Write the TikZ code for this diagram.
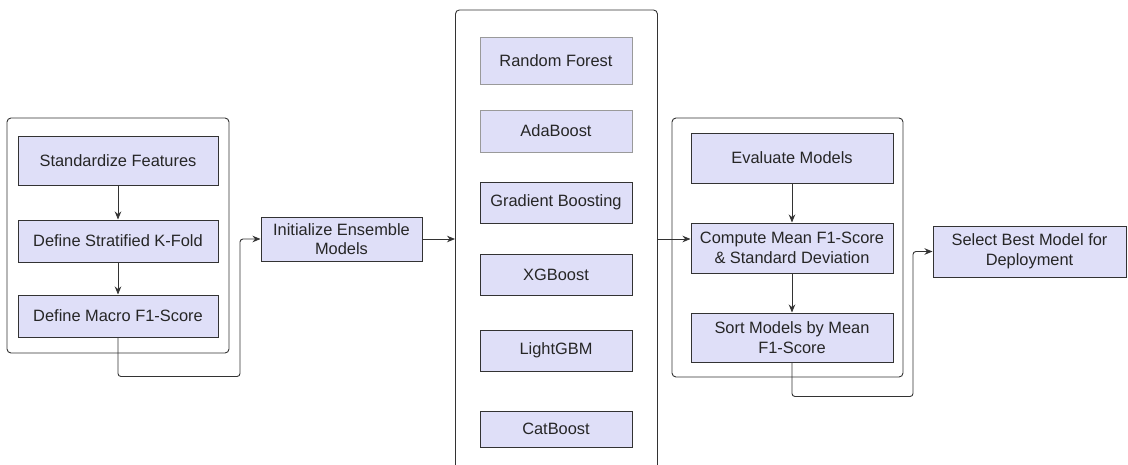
\documentclass[tikz,border=0pt]{standalone}
\usepackage{fontspec}
\setmainfont{Liberation Sans}
\usetikzlibrary{arrows.meta}
\definecolor{boxfill}{HTML}{DFDFF8}
\definecolor{ink}{HTML}{333333}
\definecolor{softline}{HTML}{9A9A9A}
\tikzset{
  stepbox/.style={draw=ink, line width=1pt, fill=boxfill, inner sep=0pt,
    align=center, text=black!85, font=\fontsize{16.4}{19.5}\selectfont},
  softbox/.style={stepbox, draw=softline},
  groupbox/.style={draw=ink, line width=0.9pt, rounded corners=4pt},
  arr/.style={draw=ink, line width=0.9pt, -{Stealth[length=8pt,width=6.5pt]}},
  elbowarr/.style={arr, rounded corners=3pt},
}
\begin{document}
\begin{tikzpicture}[x=1pt, y=-1pt]
\clip (0,0) rectangle (1128,464);
\fill[white] (0,0) rectangle (1128,464);

% preprocessing group
\draw[groupbox] (7,118) rectangle (229,353);
\node[stepbox, minimum width=200, minimum height=49] (sf) at (118,161) {Standardize Features};
\node[stepbox, minimum width=200, minimum height=42] (sk) at (118,241) {Define Stratified K-Fold};
\node[stepbox, minimum width=200, minimum height=42] (mf) at (118,316) {Define Macro F1-Score};

\node[stepbox, minimum width=161, minimum height=44] (init) at (341.5,239) {Initialize Ensemble\\Models};

% ensemble models
\node[groupbox, minimum width=202, minimum height=470, anchor=north west] (ens) at (455,9.5) {};
\node[softbox, minimum width=152, minimum height=47] (rf) at (556,60.5) {Random Forest};
\node[softbox, minimum width=152, minimum height=42] (ab) at (556,131) {AdaBoost};
\node[stepbox, minimum width=152, minimum height=41] (gb) at (556,202.5) {Gradient Boosting};
\node[stepbox, minimum width=152, minimum height=41] (xg) at (556,274.5) {XGBoost};
\node[stepbox, minimum width=152, minimum height=41] (lg) at (556,350.5) {LightGBM};
\node[stepbox, minimum width=152, minimum height=36] (cb) at (556,429) {CatBoost};

% evaluation group
\draw[groupbox] (672,118) rectangle (903,377);
\node[stepbox, minimum width=202, minimum height=50] (ev) at (792,158) {Evaluate Models};
\node[stepbox, minimum width=202, minimum height=50] (cm) at (792,248) {Compute Mean F1-Score\\\& Standard Deviation};
\node[stepbox, minimum width=202, minimum height=49] (so) at (792,337.5) {Sort Models by Mean\\F1-Score};

\node[stepbox, minimum width=193, minimum height=51] (sel) at (1029.5,251.5) {Select Best Model for\\Deployment};

% connectors
\draw[arr] (sf) -- (sk);
\draw[arr] (sk) -- (mf);
\draw[elbowarr] (mf.south) -- ++(0,39) -| (240,239) -- (init.west);
\draw[arr] (init.east) -- (init.east -| ens.west);
\draw[arr] (init.east -| ens.east) -- (init.east -| cm.west);
\draw[arr] (ev) -- (cm);
\draw[arr] (cm) -- (so);
\draw[elbowarr] (so.south) -- ++(0,34) -| (913,251.5) -- (sel.west);
\end{tikzpicture}
\end{document}
